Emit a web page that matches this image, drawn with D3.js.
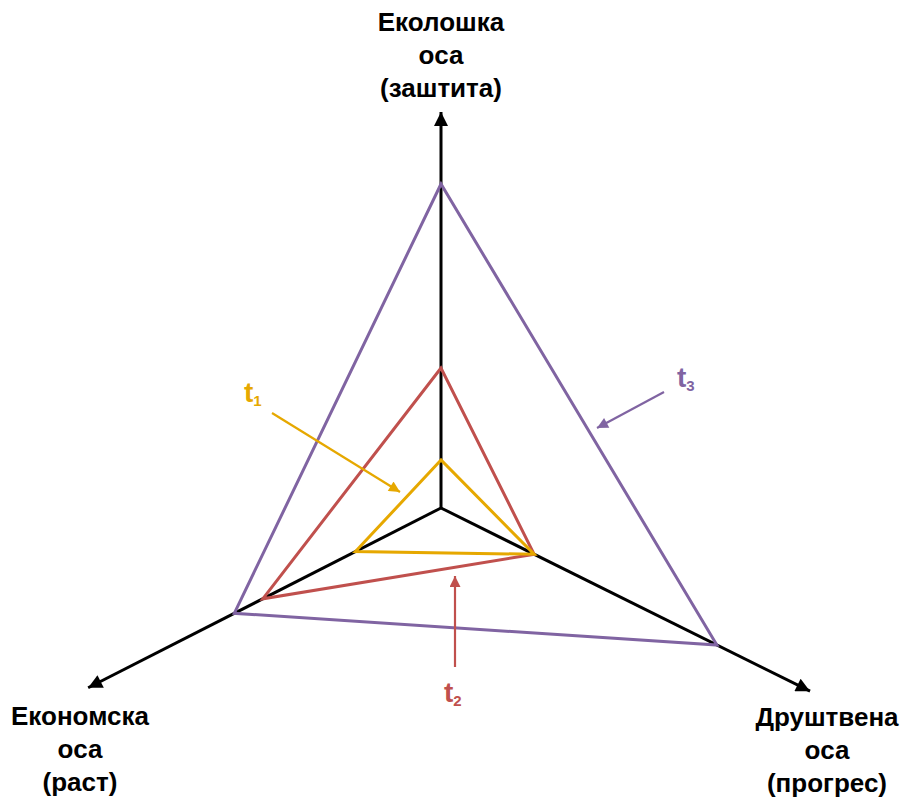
<!DOCTYPE html>
<html>
<head>
<meta charset="utf-8">
<script src="https://cdn.jsdelivr.net/npm/d3@7"></script>
<style>
  body { margin: 0; background: #fff; }
  text { font-family: "Liberation Sans", Arial, sans-serif; font-weight: bold; }
</style>
</head>
<body>
<div id="chart"></div>
<script>
// axes of the triangle diagram
const axisNames = ["eco", "econ", "soc"];
const axisLabels = [
    ["Еколошка", "оса", "(заштита)"],
    ["Економска", "оса", "(раст)"],
    ["Друштвена", "оса", "(прогрес)"]
];
const axisLengths = [99, 99, 103];

// series: t1, t2, t3 (eco, econ, soc)
const seriesNames = ["t1", "t2", "t3"];
const t1Values = [12, 24, 26];
const t2Values = [35, 50, 26];
const t3Values = [81, 58, 77];
const seriesColors = ["#e6a800", "#c0504d", "#8064a2"];

let width = 904, height = 798;
let center = {x: 441, y: 508};
// direction angles (degrees, screen coords)
let angles = [-90, 180 - 27, 26.4];

let r = d3.scaleLinear().domain([0, 100]).range([0, 400]);

function pt(i, v) {
    let a = angles[i] * Math.PI / 180;
    return [center.x + r(v) * Math.cos(a), center.y + r(v) * Math.sin(a)];
}

let svg = d3.select("#chart").append("svg")
    .attr("width", width)
    .attr("height", height);

// markers
let defs = svg.append("defs");
function addMarker(id, color, w, h) {
    defs.append("marker")
        .attr("id", id)
        .attr("viewBox", "0 0 10 10")
        .attr("refX", 10).attr("refY", 5)
        .attr("markerUnits", "userSpaceOnUse")
        .attr("markerWidth", w).attr("markerHeight", h)
        .attr("orient", "auto")
        .append("path")
        .attr("d", "M0,0 L10,5 L0,10 Z")
        .attr("fill", color);
}
addMarker("arr-black", "#000", 20, 14);
seriesColors.forEach((c, i) => addMarker("arr-" + i, c, 14, 11));

// polygons
let allSeries = [t1Values, t2Values, t3Values];
let line = d3.line().curve(d3.curveLinearClosed);

// axes
axisNames.forEach((n, i) => {
    let end = pt(i, axisLengths[i]);
    svg.append("line")
        .attr("x1", center.x).attr("y1", center.y)
        .attr("x2", end[0]).attr("y2", end[1])
        .attr("stroke", "#000")
        .attr("stroke-width", 3)
        .attr("marker-end", "url(#arr-black)");
});

allSeries.slice().reverse().forEach((vals, k) => {
    let i = allSeries.length - 1 - k;
    svg.append("path")
        .attr("d", line(vals.map((v, j) => pt(j, v))))
        .attr("fill", "none")
        .attr("stroke", seriesColors[i])
        .attr("stroke-width", 3)
        .attr("stroke-linejoin", "miter");
});

// axis labels
let labelPos = [[441, 31], [80, 725], [827, 726]];
axisLabels.forEach((lines, i) => {
    let t = svg.append("text")
        .attr("text-anchor", "middle")
        .attr("font-size", 26)
        .attr("fill", "#000");
    lines.forEach((s, j) => {
        t.append("tspan")
            .attr("x", labelPos[i][0])
            .attr("y", labelPos[i][1] + j * 33)
            .text(s);
    });
});

// annotations: label position (start, baseline), arrow start, arrow end
let annotations = [
    {label: [244, 402], from: [272, 413], to: [400, 492]},
    {label: [444, 702], from: [455, 667], to: [455, 576]},
    {label: [677, 387], from: [664, 392], to: [597, 428]}
];
annotations.forEach((a, i) => {
    svg.append("line")
        .attr("x1", a.from[0]).attr("y1", a.from[1])
        .attr("x2", a.to[0]).attr("y2", a.to[1])
        .attr("stroke", seriesColors[i])
        .attr("stroke-width", 2.2)
        .attr("marker-end", "url(#arr-" + i + ")");
    let t = svg.append("text")
        .attr("x", a.label[0]).attr("y", a.label[1])
        .attr("fill", seriesColors[i])
        .attr("font-size", 28);
    t.append("tspan").text("t");
    t.append("tspan").attr("font-size", 15).attr("dy", 4).text(String(i + 1));
});
</script>
</body>
</html>
